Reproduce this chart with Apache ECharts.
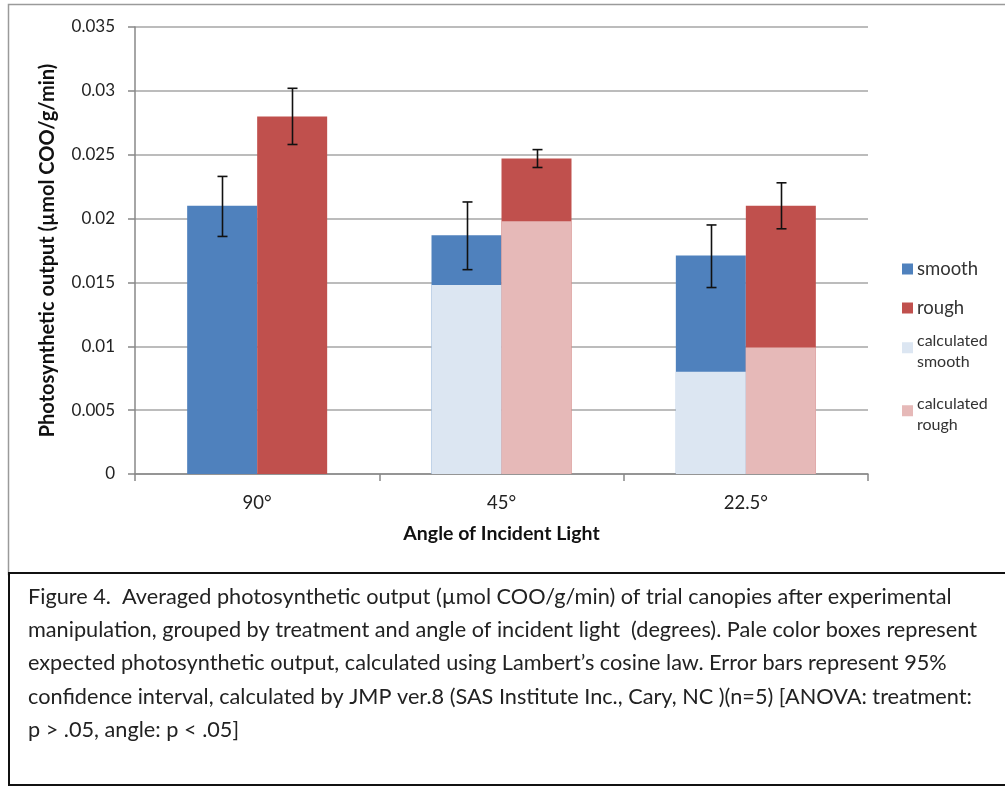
<!DOCTYPE html>
<html>
<head>
<meta charset="utf-8">
<script src="https://cdn.jsdelivr.net/npm/echarts@6/dist/echarts.min.js"></script>
<style>
html,body{margin:0;padding:0;background:#fff;}
#c{width:1005px;height:788px;}
</style>
</head>
<body>
<div id="c"></div>
<script>
// ---- data ----
const categories = ['90°', '45°', '22.5°'];
const smoothVals = [0.021, 0.0187, 0.0171];
const roughVals = [0.028, 0.0247, 0.021];
const calcSmoothVals = [null, 0.0148, 0.0080];
const calcRoughVals = [null, 0.0198, 0.0099];
const smoothErrLow = [0.0186, 0.0160, 0.0146];
const smoothErrHigh = [0.0233, 0.0213, 0.0195];
const roughErrLow = [0.0258, 0.0240, 0.0192];
const roughErrHigh = [0.0302, 0.0254, 0.0228];
const yTicks = { min: 0, max: 0.035, interval: 0.005 };
const seriesNames = ['smooth', 'rough', 'calculated smooth', 'calculated rough'];
const captionLines = [
  'Figure 4.  Averaged photosynthetic output (µmol COO/g/min) of trial canopies after experimental',
  'manipulation, grouped by treatment and angle of incident light  (degrees). Pale color boxes represent',
  'expected photosynthetic output, calculated using Lambert\u2019s cosine law. Error bars represent 95%',
  'confidence interval, calculated by JMP ver.8 (SAS Institute Inc., Cary, NC )(n=5) [ANOVA: treatment:',
  'p > .05, angle: p < .05]'
];

// ---- styles ----
const FONT = 'Lato, "Open Sans", sans-serif';
const BAR_W = 70;
const colors = ['#4F81BD', '#C0504D', '#DCE6F2', '#E6B9B8'];

const chart = echarts.init(document.getElementById('c'), null, { renderer: 'canvas' });

function errSeries(name, low, high, sign) {
  return {
    type: 'custom',
    name: name + ' err',
    xAxisIndex: 0,
    z: 10,
    silent: true,
    data: categories.map((c, i) => [i, low[i], high[i]]),
    renderItem: function (params, api) {
      const i = api.value(0);
      const pLo = api.coord([i, api.value(1)]);
      const pHi = api.coord([i, api.value(2)]);
      const x = Math.round(pLo[0] + sign * BAR_W / 2) + 0.5;
      const cap = 5;
      const st = { stroke: '#111', lineWidth: 1.6 };
      return {
        type: 'group',
        children: [
          { type: 'line', shape: { x1: x, y1: pLo[1], x2: x, y2: pHi[1] }, style: st },
          { type: 'line', shape: { x1: x - cap, y1: pLo[1], x2: x + cap, y2: pLo[1] }, style: st },
          { type: 'line', shape: { x1: x - cap, y1: pHi[1], x2: x + cap, y2: pHi[1] }, style: st }
        ]
      };
    }
  };
}

function legendItem(name, top, fontSize, lineHeight, icon, ih) {
  return {
    show: true,
    orient: 'vertical',
    left: 897,
    top: top,
    itemWidth: 11,
    itemHeight: ih || 11,
    itemGap: 0,
    icon: icon || 'rect',
    selectedMode: false,
    data: [name],
    formatter: function (n) { return n.replace(' ', '\n'); },
    textStyle: { fontFamily: FONT, fontSize: fontSize, lineHeight: lineHeight, color: '#333', padding: [0, 0, 0, -1] }
  };
}

const option = {
  animation: false,
  backgroundColor: '#fff',
  color: colors,
  grid: { left: 135, right: 137, top: 27, bottom: 314, containLabel: false },
  legend: [
    legendItem(seriesNames[0], 253, 18.5, 22),
    legendItem(seriesNames[1], 292, 18.5, 22),
    legendItem(seriesNames[2], 325.5, 16, 21, 'path://M0,0L10,0L10,10L0,10Z M0,17L0.01,17', 19),
    legendItem(seriesNames[3], 388.5, 16, 21, 'path://M0,0L10,0L10,10L0,10Z M0,17L0.01,17', 19)
  ],
  xAxis: [
    {
      type: 'category',
      data: categories,
      name: 'Angle of Incident Light',
      nameLocation: 'middle',
      nameGap: 50,
      nameTextStyle: { fontFamily: FONT, fontSize: 19.5, fontWeight: 'bold', color: '#111' },
      axisLine: { lineStyle: { color: '#888', width: 1.5 } },
      axisTick: { show: true, length: 7, lineStyle: { color: '#888', width: 1.5 } },
      axisLabel: { fontFamily: FONT, fontSize: 18.5, color: '#222', margin: 20 },
      splitLine: { show: false }
    },
    {
      type: 'category',
      data: categories,
      show: false,
      position: 'bottom'
    }
  ],
  yAxis: {
    type: 'value',
    min: yTicks.min,
    max: yTicks.max,
    interval: yTicks.interval,
    name: 'Photosynthetic output (µmol COO/g/min)',
    nameLocation: 'middle',
    nameGap: 77,
    nameTextStyle: { fontFamily: FONT, fontSize: 20, fontWeight: 'bold', color: '#111' },
    axisLine: { show: true, lineStyle: { color: '#888', width: 1.5 } },
    axisTick: { show: true, length: 7, lineStyle: { color: '#888', width: 1.5 } },
    axisLabel: { fontFamily: FONT, fontSize: 17, color: '#222', margin: 20 },
    splitLine: { lineStyle: { color: '#a6a6a6', width: 1.5 } }
  },
  series: [
    { type: 'bar', name: seriesNames[0], data: smoothVals, xAxisIndex: 0, barWidth: BAR_W, barGap: '0%', itemStyle: { color: colors[0] }, z: 2 },
    { type: 'bar', name: seriesNames[1], data: roughVals, xAxisIndex: 0, barWidth: BAR_W, barGap: '0%', itemStyle: { color: colors[1] }, z: 2 },
    { type: 'bar', name: seriesNames[2], data: calcSmoothVals, xAxisIndex: 1, barWidth: BAR_W, barGap: '0%', itemStyle: { color: colors[2] }, z: 3 },
    { type: 'bar', name: seriesNames[3], data: calcRoughVals, xAxisIndex: 1, barWidth: BAR_W, barGap: '0%', itemStyle: { color: colors[3] }, z: 3 },
    errSeries('smooth', smoothErrLow, smoothErrHigh, -1),
    errSeries('rough', roughErrLow, roughErrHigh, 1)
  ],
  graphic: [
    { type: 'rect', silent: true, z: -1, shape: { x: 8.5, y: 4.5, width: 1010, height: 570 }, style: { fill: 'none', stroke: '#9a9a9a', lineWidth: 1.5 } },
    { type: 'rect', silent: true, z: 5, shape: { x: 9, y: 573, width: 1010, height: 212 }, style: { fill: '#fff', stroke: '#111', lineWidth: 2 } }
  ].concat(captionLines.map((t, i) => ({
    type: 'text', silent: true, z: 6,
    left: 28, top: 586 + i * 33.25,
    style: { text: t, fontFamily: FONT, fontSize: 21.7, fill: '#222' }
  })))
};
chart.setOption(option);
</script>
</body>
</html>
